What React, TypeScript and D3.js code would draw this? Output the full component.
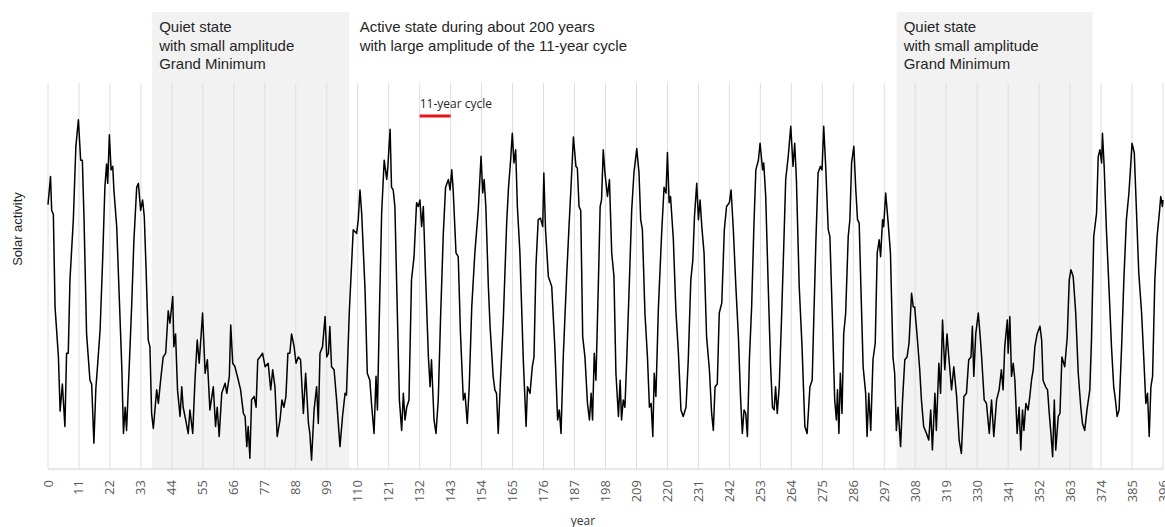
import React from 'react';
import * as d3 from 'd3';

// Solar activity readings, [year, activity (arbitrary units 0-100)]
const earlyActive: [number, number][] = [
  [0,68.5],[0.9,75.8],[1.3,67],[1.9,66],[2.5,42],[3.7,29],[4.3,15],[5.1,22],[6,11],[6.6,30],[7.2,30],[7.8,49],[9,64.6],[9.9,83.6],[10.8,90.5],[11.6,80],[12.2,80],[12.8,64.6],[13.7,35],[14.9,23],[15.5,22],[16.3,6.7],[17,21],[17.5,25.7],[18.5,36],[19.4,54],[20.2,73],[20.8,79],[21.2,74],[21.8,86.6],[22.4,77.5],[23,78.4],[23.4,72.3],[24.4,62.8],[25.3,44.7],[26.2,26.5],[26.8,9.2],[27.4,16],[27.9,10],[28.9,27.4],[29.7,42],[30.5,59],[31.5,73],[32.1,74],[32.9,67],[33.6,69.7],[34.2,65.4],[34.8,52.5],[35.6,33.4],[36.2,31.7],[36.8,14.4],[37.4,10.5],
];

const quietEra1: [number, number][] = [
  [38.6,20.5],[39.2,17],[40,23],[40.9,29],[41.8,30],[42.7,41],[43.3,37.8],[44.3,44.7],[44.7,31.7],[45.3,35],[46,20.5],[46.9,13.6],[47.5,21.3],[48,16],[48.9,12.7],[49.8,9.2],[50.4,15.3],[51.4,9.2],[52.2,23],[53,33.4],[53.7,27.4],[54.9,40.4],[55.8,24.8],[56.6,28.3],[57.5,15.3],[58.7,21.3],[59.5,11],[60.1,16],[60.8,8.4],[61.7,19.6],[62.9,22.2],[63.5,19.6],[64.4,24],[64.9,37.3],[65.6,27.4],[66.4,26.5],[67.6,23],[68.4,20.5],[69.4,14.4],[70,13.6],[70.6,5.8],[71.1,11],[71.7,2.8],[72.3,17.9],[73.2,18.8],[73.9,16],[74.5,28.3],[75.3,29],[76.2,30],[77.1,26.5],[78.2,27.4],[79.1,20.5],[79.8,25.7],[80.6,21.3],[81.4,8.4],[82.4,12.7],[83.1,17.9],[83.8,16],[84.5,18.8],[85.2,30],[85.9,30],[86.5,35],[87.4,31.7],[88.1,27.4],[88.9,29],[89.7,28.3],[90.7,14.4],[91.5,24.8],[92.5,11.8],[93,9.2],[93.6,2.3],[94.5,15.3],[95.4,21.3],[96,11.8],[96.6,30],[97.5,31.7],[98.4,39.5],[99,29],[99.6,30],[100.1,36.9],[100.7,26.5],[101.6,25.7],[102.5,17.9],[103.7,5.8],[104.6,13.6],[105.5,19.6],[106,19.2],
];

const activeEra: [number, number][] = [
  [107,40.4],[108.4,62],[109.6,61],[110.2,64.6],[110.8,72.3],[111.4,66.3],[112.6,46.4],[113.4,24.8],[114.3,23],[115,16],[115.8,9.2],[116.5,24],[117,15.3],[117.7,40.4],[118.5,66.3],[119.4,80],[120.3,75],[120.7,78.4],[121.5,88],[122,73],[122.6,72.3],[123.2,68],[124.1,39.5],[124.8,17.9],[125.6,10],[126.2,19.6],[126.8,12.7],[127.4,16],[128.2,17.9],[129.1,49],[130,55],[130.9,69],[131.5,68],[132.1,69.7],[132.7,62.8],[133.3,68],[134.1,49.9],[135.1,29],[135.7,21.3],[136.2,28.3],[137.1,12.7],[137.8,9.2],[138.6,17.9],[139.4,38.6],[140.4,61],[141.2,73],[142.2,75],[142.8,72.3],[143.4,77.5],[143.9,72.3],[144.9,56],[145.7,55],[146.5,35],[147.5,17.9],[148.1,19.6],[148.9,11.8],[149.6,21.3],[150.5,42],[151.6,56],[152.8,67],[153.8,81],[154.4,71.5],[154.9,75],[155.5,68],[156.4,47.3],[157,37],[158.1,24],[158.7,20.5],[159.3,19.6],[159.9,9.2],[160.7,23],[161.7,38.6],[162.9,63.7],[163.5,72.3],[164.3,80],[164.9,87],[165.5,79.3],[166.1,82.7],[166.7,68],[167.6,56],[168.8,28.3],[169.8,11],[170.3,21.3],[171.2,19.6],[172,26.5],[172.6,29],[173.3,52.5],[174.1,64.6],[174.9,65],[175.7,62.8],[176.1,76.7],[176.7,62],[177.7,49.9],[178.9,47.3],[180,31.7],[181,12.7],[181.6,15.3],[182.2,9.2],[183,29],[184.2,49.9],[185.1,63.7],[185.7,72.3],[186.6,86],[187.5,78.4],[188,78],[188.6,68],[189.2,67],[189.9,34.3],[190.7,29],[191.6,17],[192.3,12.7],[192.9,19.6],[193.4,12.7],[194,30],[194.6,23],[195.5,49],[196.1,68],[196.6,69.7],[197.2,82.7],[197.8,76.7],[198.7,70.6],[199.4,75],[200.2,56],[201,49.9],[201.7,24.8],[202.6,13.6],[203.2,23],[203.7,12.7],[204.3,17.9],[204.9,16],[205.5,27.4],[206.5,49],[207.3,67],[208.1,76.7],[209.1,83],[209.9,76.7],[210.5,64.6],[211.1,62],[212,40.4],[212.9,29],[213.6,16],[214.2,17],[214.8,8.4],[215.3,24.8],[215.9,18.8],[216.8,42],[218,62],[218.8,73],[219.5,71.5],[220,82],[220.6,69],[221.1,70.6],[222.1,59.4],[223,41],[223.9,30],[224.8,15.3],[225.6,13.6],[226.6,16],[227.4,28.3],[228.3,49],[229,54],[229.6,65.4],[230.4,74],[231,64.6],[231.6,69.7],[232.2,62.8],[233,56],[233.9,34.3],[234.9,25.7],[235.7,14.4],[236.3,10],[236.9,21.3],[237.7,22],[238.4,40.4],[239.3,43],[240.2,62],[241,68],[242,69],[242.6,72.3],[243.4,62],[244.3,47.3],[245.2,34.3],[246,17.9],[246.6,9.2],[247.2,15.3],[247.8,14.4],[248.4,8.4],[249.1,28.3],[249.9,42],[250.7,62.8],[251.4,77.5],[252.3,80],[252.9,84.4],[253.8,77.5],[254.2,79.3],[254.9,70.6],[255.8,47.3],[256.6,27.4],[257.3,16],[257.9,15.3],[258.4,21.3],[259,14.4],[259.7,21.3],[260.5,38.6],[261.3,57.6],[262,75],[262.9,81],[263.8,88.8],[264.6,78.4],[265.2,84.4],[265.8,75],[266.8,47.3],[267.8,31.7],[268.8,11],[269.6,9.2],[270.6,21.3],[271.4,23],[272,39.5],[272.7,58.5],[273.5,76.7],[274.3,78.4],[274.9,77.5],[275.5,88.8],[276.2,78.4],[277.1,62],[277.7,60.2],[278.6,38.6],[279.4,17.9],[280,12.7],[280.4,20.5],[280.9,9.2],[281.4,24.8],[282,14.4],[282.6,35],[283.3,40.4],[284.2,60.2],[284.8,64.6],[285.4,79.3],[286.2,83.6],[286.9,72.3],[287.5,64.6],[288.1,63.7],[288.7,47.3],[289.5,26.5],[290.4,19.6],[290.9,8.4],[291.5,19.6],[292.2,10],[293,28.3],[293.8,32.6],[294.5,56],[295.2,59.4],[295.7,55],[296.4,64.6],[296.8,62.8],[297.5,71.5],[298.4,63.7],[299.2,56],[300.1,29],[300.7,24.8],
];

const quietEra2: [number, number][] = [
  [301.3,10],[301.9,16],[302.8,5.8],[303.5,17.9],[304.3,28.3],[305.1,29],[305.8,32.6],[306.7,45.5],[307.3,42],[307.8,42],[308.7,34.3],[309.6,25.7],[310.2,17.9],[311,11],[312,9.2],[312.8,7.5],[313.5,15.3],[314.1,4.9],[315,19.6],[315.5,10],[316.4,27.4],[317,19.6],[317.7,38.6],[318.5,25.7],[319.3,35],[320,28.3],[320.9,20.5],[321.7,26.5],[322.7,18.8],[323.6,7.5],[324.4,4],[325.3,18.8],[326.2,19.6],[327,28.3],[327.8,29],[328.3,37],[328.8,24],[329.5,35],[330.4,40.4],[331,35],[331.5,30],[332.5,17.9],[333.3,17],[334.3,9.2],[335.1,17.9],[335.9,8.4],[336.9,17.9],[337.8,20.5],[338.6,25.7],[339.2,20.5],[339.8,31.7],[340.7,38.6],[341,30],[341.6,39.5],[342.2,24],[342.8,27.4],[343.4,23],[344.2,9.2],[344.9,16],[345.5,4.9],[346.1,15.3],[346.6,10],[347.3,17],[348.1,15.3],[348.7,18.8],[349.3,23],[349.9,25.7],[350.5,31.7],[351.3,35],[352.3,37],[352.9,33.4],[353.4,23],[354.3,21.3],[355,20.5],[355.6,14.4],[356.2,9.2],[356.8,3.2],[357.4,17.9],[357.9,4.9],[358.8,13.6],[359.4,14.4],[360.1,29],[361.1,26.5],[362,34.3],[362.7,49],[363.3,51.6],[364.1,49.9],[365,40.4],[365.9,24.8],[366.8,16],[367.4,11.8],[368.2,10],[369,15.3],[370,20.5],
];

const lateActive: [number, number][] = [
  [370.6,33.4],[371.4,60.2],[372.4,66.3],[373,81],[373.6,82.7],[374.2,79.3],[374.5,87],[375.1,78.4],[375.9,62],[376.9,45.5],[377.7,31.7],[378.5,21.3],[379.1,17.9],[379.7,13.6],[380.4,15.3],[381.3,31.7],[382.1,49],[383,64.6],[383.9,71.5],[384.5,78.4],[385,84.4],[385.8,81.9],[386.6,66.3],[387.4,50.7],[388.4,40.4],[389.2,28.3],[389.9,17],[390.5,19.6],[391.1,8.4],[391.7,21.3],[392.3,24],[393.1,49],[393.9,60.2],[394.7,66.3],[395.2,70.6],[395.8,68],[396,69.7],
];

const yearTicks = [0,11,22,33,44,55,66,77,88,99,110,121,132,143,154,165,176,187,198,209,220,231,242,253,264,275,286,297,308,319,330,341,352,363,374,385,396];

const quietSpans: [number, number][] = [[37, 107], [301.4, 371]];
const quietLabel = ['Quiet state', 'with small amplitude', 'Grand Minimum'];
const activeLabel = ['Active state during about 200 years', 'with large amplitude of the 11-year cycle'];
const activeLabelYear = 110.7;
const cycleSpan: [number, number] = [132, 143];

const W = 1165;
const H = 527;

export default function App() {
  const series = [...earlyActive, ...quietEra1, ...activeEra, ...quietEra2, ...lateActive];
  const x = d3.scaleLinear().domain([0, 396]).range([48, 1163]);
  const y = d3.scaleLinear().domain([0, 100]).range([469, 83]);
  const line = d3
    .line<[number, number]>()
    .x((d) => x(d[0]))
    .y((d) => y(d[1]))
    .curve(d3.curveLinear);

  const sans = '"Liberation Sans", Arial, sans-serif';
  const open = '"Open Sans", sans-serif';

  return (
    <svg
      width={W}
      height={H}
      viewBox={`0 0 ${W} ${H}`}
      style={{ position: 'absolute', left: 0, top: 0, background: '#fff' }}
    >
      {quietSpans.map(([a, b], i) => (
        <rect key={'q' + i} x={x(a)} y={12} width={x(b) - x(a)} height={y(0) - 12} fill="#f2f2f2" />
      ))}
      {yearTicks.map((t) => (
        <line key={'g' + t} x1={x(t)} x2={x(t)} y1={y(100)} y2={y(0)} stroke="#dedede" strokeWidth={1} />
      ))}
      <line x1={x(0)} x2={x(396)} y1={y(0)} y2={y(0)} stroke="#d0d0d0" strokeWidth={1} />
      {yearTicks.map((t) => (
        <text
          key={'t' + t}
          transform={`translate(${x(t) + 4.5},480) rotate(-90)`}
          textAnchor="end"
          fontFamily={open}
          fontSize={13}
          fill="#595959"
        >
          {t}
        </text>
      ))}
      <path d={line(series) || ''} fill="none" stroke="#000" strokeWidth={1.5} strokeLinejoin="round" />

      {quietSpans.map(([a], i) => (
        <text key={'ql' + i} x={x(a) + 7} y={32} fontFamily={sans} fontSize={15} fill="#262626">
          {quietLabel.map((s, j) => (
            <tspan key={j} x={x(a) + 7} y={32 + j * 18.5}>
              {s}
            </tspan>
          ))}
        </text>
      ))}
      <text fontFamily={sans} fontSize={15} fill="#262626">
        {activeLabel.map((s, j) => (
          <tspan key={j} x={x(activeLabelYear)} y={32 + j * 18.5}>
            {s}
          </tspan>
        ))}
      </text>

      <text x={x(cycleSpan[0])} y={108} fontFamily={open} fontSize={12} fill="#262626">
        11-year cycle
      </text>
      <line x1={x(cycleSpan[0])} x2={x(cycleSpan[1])} y1={116} y2={116} stroke="#e8141c" strokeWidth={3} />

      <text
        transform={`translate(21.5,229) rotate(-90)`}
        textAnchor="middle"
        fontFamily={sans}
        fontSize={13}
        fill="#262626"
      >
        Solar activity
      </text>
      <text x={583} y={525} textAnchor="middle" fontFamily={open} fontSize={12} fill="#333">
        year
      </text>
    </svg>
  );
}
